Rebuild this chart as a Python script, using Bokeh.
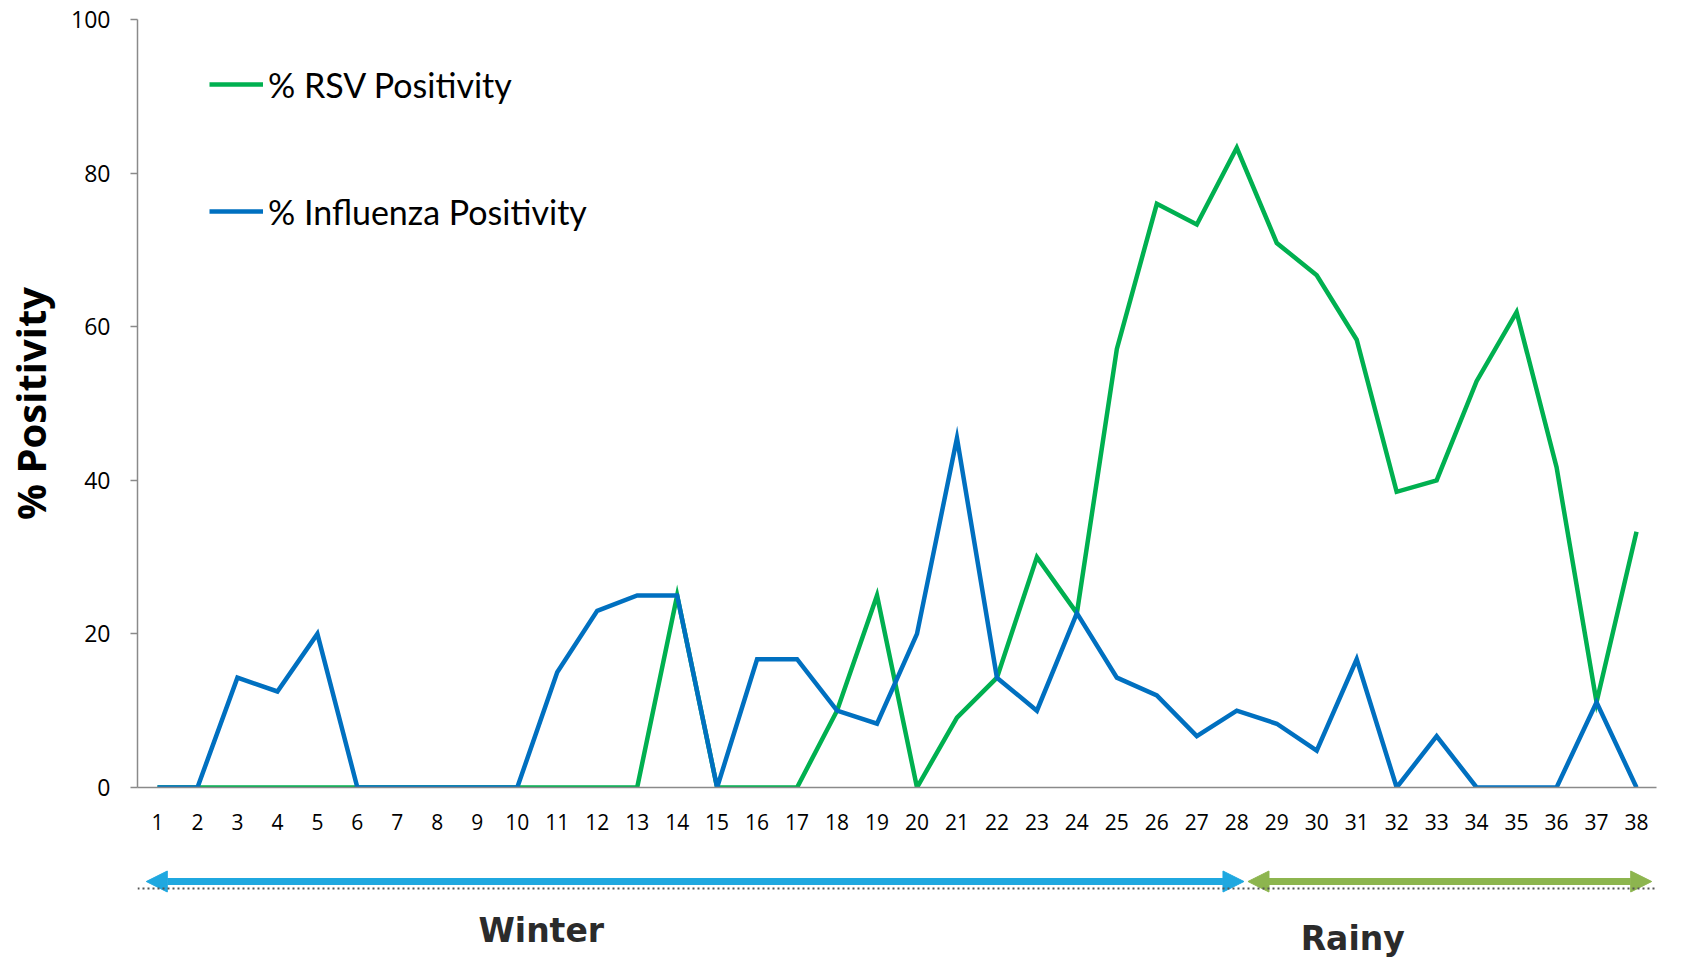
from bokeh.plotting import figure
from bokeh.models import (Range1d, FixedTicker, Legend, LegendItem, Arrow, NormalHead,
                          Span, ColumnDataSource)
from bokeh.layouts import column
from bokeh.core.properties import value
from bokeh.embed import file_html
from bokeh.resources import INLINE

# ---------------- data ----------------
weeks = list(range(1, 39))
rsv_pct = [0, 0, 0, 0, 0, 0, 0, 0, 0, 0,
           0, 0, 0, 25, 0, 0, 0, 10, 25, 0,
           9.1, 14.3, 30, 22.7, 57.1, 76, 73.3, 83.3, 70.9, 66.7,
           58.3, 38.5, 40, 52.9, 61.9, 41.7, 11.1, 33.3]
flu_pct = [0, 0, 14.3, 12.5, 20, 0, 0, 0, 0, 0,
           15, 23, 25, 25, 0, 16.7, 16.7, 10, 8.3, 20,
           45.5, 14.3, 10, 22.7, 14.3, 12, 6.7, 10, 8.3, 4.8,
           16.7, 0, 6.7, 0, 0, 0, 11.1, 0]
y_ticks = [0, 20, 40, 60, 80, 100]
series_names = ["% RSV Positivity", "% Influenza Positivity"]
season_names = ["Winter", "Rainy"]
season_start = [1, 28]
season_end = [28, 38]

# ---------------- styles ----------------
GREEN = "#00b050"
BLUE = "#0070c0"
AXIS = "#8a8a8a"
ARROW_COLORS = ["#1fa8e0", "#8db54f"]

x_rng = Range1d(0.5, 38.5)
BORDER_L, BORDER_R, WIDTH = 136, 17, 1673

p = figure(width=WIDTH, height=850, x_range=x_rng, y_range=Range1d(0, 100),
           output_backend="svg", toolbar_location=None,
           min_border_left=BORDER_L, min_border_right=BORDER_R, min_border_top=19,
           min_border_bottom=63)
p.outline_line_color = None
p.grid.visible = False

src = ColumnDataSource(dict(week=weeks, rsv=rsv_pct, flu=flu_pct))
r_rsv = p.line("week", "rsv", source=src, line_color=GREEN, line_width=4.5,
               line_join="miter")
r_flu = p.line("week", "flu", source=src, line_color=BLUE, line_width=4.5,
               line_join="miter")

# axes
p.xaxis.ticker = FixedTicker(ticks=weeks)
p.xaxis.axis_line_color = AXIS
p.xaxis.axis_line_width = 1.5
p.xaxis.major_tick_line_color = None
p.xaxis.minor_tick_line_color = None
p.xaxis.major_label_standoff = 20
p.xaxis.major_label_text_font = "Open Sans"
p.xaxis.major_label_text_font_size = "21px"
p.xaxis.major_label_text_color = "#000000"

p.yaxis.ticker = FixedTicker(ticks=y_ticks)
p.yaxis.axis_line_color = AXIS
p.yaxis.axis_line_width = 1.5
p.yaxis.major_tick_line_color = AXIS
p.yaxis.major_tick_line_width = 1.5
p.yaxis.major_tick_out = 7
p.yaxis.major_tick_in = 0
p.yaxis.minor_tick_line_color = None
p.yaxis.major_label_standoff = 20
p.yaxis.major_label_text_font = "Open Sans"
p.yaxis.major_label_text_font_size = "23px"
p.yaxis.major_label_text_color = "#000000"
p.yaxis.axis_label = "% Positivity"
p.yaxis.axis_label_text_font = "Open Sans"
p.yaxis.axis_label_text_font_style = "bold"
p.yaxis.axis_label_text_font_size = "40px"
p.yaxis.axis_label_text_color = "#000000"
p.yaxis.axis_label_standoff = 10

legend = Legend(items=[LegendItem(label=series_names[0], renderers=[r_rsv]),
                       LegendItem(label=series_names[1], renderers=[r_flu])],
                location=(72, 554), orientation="vertical",
                label_text_font="Lato", label_text_font_size="34px",
                label_text_color="#000000",
                glyph_width=54, glyph_height=44, label_height=44,
                label_standoff=5, spacing=83, padding=0, margin=0,
                border_line_color=None, background_fill_alpha=0)
p.add_layout(legend)

# ---------------- season arrows ----------------
q = figure(width=WIDTH, height=110, x_range=x_rng, y_range=Range1d(110, 0),
           output_backend="svg", toolbar_location=None,
           min_border_left=BORDER_L, min_border_right=BORDER_R,
           min_border_top=0, min_border_bottom=0)
q.outline_line_color = None
q.grid.visible = False
q.xaxis.visible = False
q.yaxis.visible = False

pad_start = [-0.28, 0.28]
pad_end = [0.18, 0.38]
label_x = [10.6, 30.9]
label_y = [80, 88]
for i in range(len(season_names)):
    c = ARROW_COLORS[i]
    q.add_layout(Arrow(x_start=season_start[i] + pad_start[i], y_start=31,
                       x_end=season_end[i] + pad_end[i], y_end=31,
                       line_color=c, line_width=7,
                       start=NormalHead(size=21, fill_color=c, line_color=c, line_width=1),
                       end=NormalHead(size=21, fill_color=c, line_color=c, line_width=1)))
q.add_layout(Span(location=38, dimension="width", line_color="#555555",
                  line_width=2, line_dash="2 3", level="overlay"))
q.text(x=label_x, y=label_y, text=season_names, text_align="center",
       text_baseline="middle", text_font=value("DejaVu Sans"),
       text_font_style="bold", text_font_size="33px", text_color="#2b2b2b")

layout = column(p, q, spacing=0)
open("out.html", "w").write(file_html(layout, INLINE))
